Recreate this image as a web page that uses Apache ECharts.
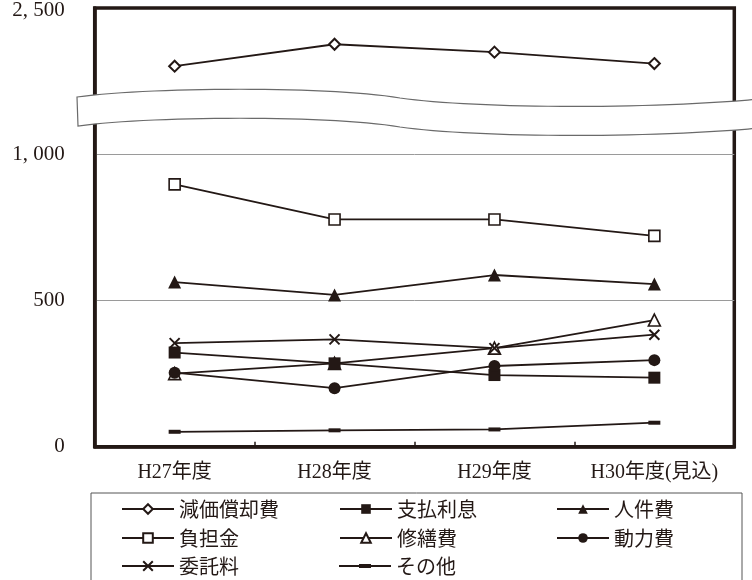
<!DOCTYPE html>
<html>
<head>
<meta charset="utf-8">
<script src="https://cdn.jsdelivr.net/npm/echarts@6/dist/echarts.min.js"></script>
<style>html,body{margin:0;padding:0;background:#fff}#c{width:752px;height:580px}</style>
</head>
<body>
<div id="c"></div>
<script>
const categories = ['H27年度', 'H28年度', 'H29年度', 'H30年度(見込)'];
const genka = [2301, 2376, 2349, 2310];     // 減価償却費 (above the axis break)
const shiharai = [322, 285, 245, 236];      // 支払利息
const jinken = [563, 519, 587, 556];        // 人件費
const futan = [897, 777, 777, 721];         // 負担金
const shuzen = [250, 285, 337, 433];        // 修繕費
const douryoku = [253, 200, 276, 296];      // 動力費
const itaku = [354, 367, 337, 383];         // 委託料
const sonota = [51, 56, 59, 82];            // その他
const yTicks = [0, 500, 1000, 1500];
const yTickLabels = ['0', '500', '1, 000', '2, 500'];
const legendGrid = [
  ['減価償却費', '支払利息', '人件費'],
  ['負担金', '修繕費', '動力費'],
  ['委託料', 'その他']
];
const BREAK_SHIFT = 1000; // values above the break are drawn 1000 lower

const INK = '#231815';
const toAxis = v => (v > 1500 ? v - BREAK_SHIFT : v);

// axis-break band outline (decoration)
function bez(p0, p1, p2, p3, n) {
  const out = [];
  for (let i = 0; i <= n; i++) {
    const t = i / n, u = 1 - t;
    out.push([
      u*u*u*p0[0] + 3*u*u*t*p1[0] + 3*u*t*t*p2[0] + t*t*t*p3[0],
      u*u*u*p0[1] + 3*u*u*t*p1[1] + 3*u*t*t*p2[1] + t*t*t*p3[1]
    ]);
  }
  return out;
}
const topEdge = bez([77,97],[150,87],[330,86],[400,98],30).concat(bez([400,98],[470,108],[640,110],[760,99],30).slice(1));
const botEdge = bez([78,126],[150,116],[330,115],[400,127],30).concat(bez([400,127],[470,137],[640,139],[760,128],30).slice(1));
const bandPoly = topEdge.concat(botEdge.slice().reverse());

const chart = echarts.init(document.getElementById('c'));

function mk(name, data, symbol, size, hollow, extra) {
  return Object.assign({
    name: name,
    type: 'line',
    data: data.map(toAxis),
    symbol: symbol,
    symbolSize: size,
    showAllSymbol: true,
    lineStyle: { color: INK, width: 1.8 },
    itemStyle: hollow
      ? { color: '#fff', borderColor: INK, borderWidth: 1.6 }
      : { color: INK, borderColor: INK, borderWidth: 0 },
    emphasis: { disabled: true },
    animation: false
  }, extra || {});
}

const series = [
  mk('減価償却費', genka, 'diamond', 11, true, { itemStyle: { color: '#fff', borderColor: INK, borderWidth: 2 } }),
  mk('負担金', futan, 'rect', 11, true),
  mk('修繕費', shuzen, 'triangle', 12, true),
  mk('人件費', jinken, 'triangle', 13, false),
  mk('支払利息', shiharai, 'rect', 12, false),
  mk('動力費', douryoku, 'circle', 12, false),
  mk('委託料', itaku, 'path://M0,0L10,10M10,0L0,10', 10, false,
     { itemStyle: { color: 'rgba(0,0,0,0)', borderColor: INK, borderWidth: 2 } }),
  mk('その他', sonota, 'rect', [12, 4], false)
];

const colLeft = [121, 339, 556];
const rowTop = [499, 528, 556];
const legends = [];
legendGrid.forEach((row, r) => row.forEach((name, c) => {
  const dash = name === 'その他';
  legends.push({
    left: colLeft[c], top: rowTop[r],
    data: dash ? [{ name: name, icon: 'path://M0,1.1h52v1.8h-52zM20,0h12v4h-12z' }] : [name],
    itemWidth: 52, itemHeight: dash ? 4 : 12,
    selectedMode: false,
    padding: 0,
    textStyle: { fontSize: 20, color: INK, fontFamily: 'Noto Sans CJK JP' }
  });
}));

chart.setOption({
  animation: false,
  backgroundColor: '#fff',
  grid: {
    left: 94.7, right: 17.7, top: 7.7, bottom: 133.3,
    show: true, borderColor: INK, borderWidth: 3.5, backgroundColor: 'transparent'
  },
  xAxis: {
    type: 'category',
    data: categories,
    boundaryGap: true,
    axisLine: { lineStyle: { color: INK, width: 3.5 } },
    axisTick: { show: true, inside: true, length: 5, lineStyle: { color: INK, width: 1.5 } },
    axisLabel: {
      interval: 0,
      margin: 16, fontSize: 20, color: INK,
      fontFamily: 'Liberation Serif, Noto Sans CJK JP'
    }
  },
  yAxis: {
    type: 'value',
    min: yTicks[0],
    max: yTicks[yTicks.length - 1],
    interval: 500,
    axisLine: { show: true, lineStyle: { color: INK, width: 3.5 } },
    axisTick: { show: false },
    splitLine: { show: true, showMinLine: false, showMaxLine: false, lineStyle: { color: '#9a9a9a', width: 1 } },
    axisLabel: {
      margin: 30, fontSize: 21, color: INK,
      fontFamily: 'Liberation Serif',
      formatter: v => (v === 1500 ? '{t|' + yTickLabels[yTicks.indexOf(v)] + '}' : yTickLabels[yTicks.indexOf(v)]),
      rich: { t: { fontSize: 21, color: INK, fontFamily: 'Liberation Serif', padding: [5, 0, 0, 0] } }
    }
  },
  legend: legends,
  graphic: [
    {
      type: 'rect', z: 1, silent: true,
      shape: { x: 91, y: 493, width: 651, height: 120 },
      style: { fill: 'none', stroke: '#555', lineWidth: 1 }
    },
    {
      type: 'polygon', z: 100, silent: true,
      shape: { points: bandPoly },
      style: { fill: '#fff', stroke: '#6a6a6a', lineWidth: 1.2 }
    }
  ],
  series: series
});
</script>
</body>
</html>
